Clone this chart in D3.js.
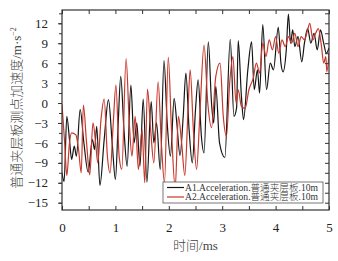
<!DOCTYPE html>
<html>
<head>
<meta charset="utf-8">
<script src="https://cdn.jsdelivr.net/npm/d3@7"></script>
<style>
body { margin: 0; background: #fff; }
text { font-family: "Liberation Serif", "Times New Roman", serif; }
.cjk { font-family: "Liberation Serif", "Noto Sans CJK SC", serif; font-weight: 300; }
</style>
</head>
<body>
<div id="chart"></div>
<script>
// peaks and troughs, time in ms, accel in m/s^2
const blackT = [0.00,0.04,0.09,0.14,0.18,0.23,0.27,0.34,0.41,0.49,0.57,0.61,0.65,0.71,0.79,0.87,0.94,1.00,1.05,1.10,1.16,1.22,1.29,1.35,1.40,1.46,1.52,1.59,1.67,1.72,1.77,1.84,1.91,1.97,2.03,2.10,2.15,2.21,2.27,2.32,2.38,2.44,2.50,2.55,2.61,2.66,2.74,2.80,2.84,2.88,2.95,3.05,3.15,3.22,3.27,3.30,3.36,3.40,3.48,3.55,3.60,3.66,3.70,3.76,3.83,3.90,3.96,4.05,4.10,4.14,4.20,4.24,4.28,4.32,4.36,4.42,4.49,4.54,4.60,4.66,4.72,4.78,4.84,4.90,4.95,5.00];
const blackV = [-10.5,-11.8,-2.0,-5.5,-8.5,-6.5,-8.0,-1.0,-6.0,-10.4,-5.5,-7,-3.5,-12.4,-5.5,0.5,-6,-11.5,-3.5,4.0,-4,-9.5,2.7,-6,-3,-9.5,0.6,-11.9,0.2,-6,-3,-10,6.4,-3,-8,0.7,-3,-7.9,-2,4.5,-4,-9,-1,3.5,-5,-7.5,9.2,0,-3,2.5,-6,-8.2,9.6,-2,-0.7,9.4,1,-2.5,5,9.2,2,5,1.5,11.8,2.0,6,5,11.4,6,4.7,8,13.4,9,11,8.5,10,6.2,9,11.2,9,10.5,8,11,9,7.5,8.3];

const redT = [0.00,0.05,0.09,0.14,0.18,0.26,0.31,0.36,0.40,0.46,0.52,0.58,0.63,0.67,0.73,0.79,0.85,0.90,0.96,1.01,1.07,1.12,1.20,1.26,1.31,1.37,1.43,1.50,1.55,1.60,1.66,1.72,1.80,1.86,1.92,1.99,2.05,2.12,2.18,2.24,2.30,2.36,2.40,2.46,2.52,2.58,2.66,2.73,2.80,2.88,2.96,3.02,3.08,3.14,3.20,3.26,3.30,3.36,3.43,3.50,3.58,3.64,3.70,3.76,3.82,3.88,3.94,4.00,4.06,4.12,4.18,4.24,4.30,4.36,4.42,4.48,4.54,4.60,4.64,4.70,4.75,4.80,4.86,4.90,4.94,4.96,5.00];
const redV = [-0.2,-6,-10.9,-6,-4.5,-4.8,-7,-10.5,-0.3,-6,-10.8,-3,-6,-9,-2.5,0.6,-8,-10.5,-3,2.7,-8,-10,6.7,-3,-8,-2,-10,-4,-12,2.1,-4,-9,3.2,-6,-12,6.9,-4,-12.8,-2,-6,-10.9,-1,5,-4,-10,-2,8.7,0,-3.7,4,6,-2,-5,3,7,0,2,-0.5,-0.8,2,3.7,6,4.5,9,7,9.5,8,10,7.5,9.5,8.5,10,9,10.5,8.5,10,9.5,11,12,9.5,10.5,11.2,8.5,6,7,4.7,7.5];

const xTicks = [0, 1, 2, 3, 4, 5];
const yTicks = [-15, -12, -9, -6, -3, 0, 3, 6, 9, 12];
const legendNames = ["A1.Acceleration.普通夹层板.10m", "A2.Acceleration.普通夹层板.10m"];

const width = 338, height = 261;
const margin = { top: 10, right: 9, bottom: 51, left: 62 };

const svg = d3.select("#chart").append("svg")
  .attr("width", width)
  .attr("height", height);

const x = d3.scaleLinear().domain([0, 5]).range([margin.left, width - margin.right]);
const y = d3.scaleLinear().domain([-16.1, 14]).range([height - margin.bottom, margin.top]);

const axisColor = "#333";

// clip for the lines
svg.append("clipPath").attr("id", "clip")
  .append("rect")
  .attr("x", margin.left).attr("y", margin.top)
  .attr("width", x(5) - x(0)).attr("height", y(-16.1) - y(14));

const line = d3.line()
  .x(d => x(d[0]))
  .y(d => y(d[1]))
  .curve(d3.curveMonotoneX);

const blackData = blackT.map((t, i) => [t, blackV[i]]);
const redData = redT.map((t, i) => [t, redV[i]]);

const lines = svg.append("g").attr("clip-path", "url(#clip)");
lines.append("path").datum(blackData)
  .attr("d", line).attr("fill", "none")
  .attr("stroke", "#151515").attr("stroke-width", 1.2);
lines.append("path").datum(redData)
  .attr("d", line).attr("fill", "none")
  .attr("stroke", "#c8382c").attr("stroke-width", 1.2);

// bottom axis, ticks inside
const xMinor = d3.range(0, 5.01, 0.5);
svg.append("g")
  .attr("transform", `translate(0,${height - margin.bottom})`)
  .call(d3.axisBottom(x).tickValues(xMinor).tickSize(-4).tickFormat(""))
  .call(g => g.select(".domain").remove())
  .selectAll("line").attr("stroke", axisColor);
svg.append("g")
  .attr("transform", `translate(0,${height - margin.bottom})`)
  .call(d3.axisBottom(x).tickValues(xTicks).tickSize(0).tickPadding(13).tickFormat(d3.format("d")))
  .call(g => g.select(".domain").remove())
  .selectAll("text")
  .attr("font-size", 13)
  .attr("fill", "#222")
  .style("font-family", "Liberation Serif, serif");

// top axis
svg.append("g")
  .attr("transform", `translate(0,${margin.top})`)
  .call(d3.axisTop(x).tickValues(xMinor).tickSize(-4).tickFormat(""))
  .call(g => g.select(".domain").remove())
  .selectAll("line").attr("stroke", axisColor);

// left axis
const yMinor = d3.range(-15, 13.6, 1.5);
svg.append("g")
  .attr("transform", `translate(${margin.left},0)`)
  .call(d3.axisLeft(y).tickValues(yMinor).tickSize(3).tickFormat(""))
  .call(g => g.select(".domain").remove())
  .selectAll("line").attr("stroke", axisColor);
svg.append("g")
  .attr("transform", `translate(${margin.left},0)`)
  .call(d3.axisLeft(y).tickValues(yTicks).tickSize(4).tickPadding(10)
    .tickFormat(d => d < 0 ? "\u2212" + Math.abs(d) : d))
  .call(g => g.select(".domain").remove())
  .call(g => g.selectAll("line").attr("stroke", axisColor))
  .selectAll("text")
  .attr("font-size", 13)
  .attr("fill", "#222")
  .style("font-family", "Liberation Serif, serif");

// right axis
svg.append("g")
  .attr("transform", `translate(${width - margin.right},0)`)
  .call(d3.axisRight(y).tickValues(yMinor).tickSize(-4).tickFormat(""))
  .call(g => g.select(".domain").remove())
  .selectAll("line").attr("stroke", axisColor);

// frame
svg.append("rect")
  .attr("x", margin.left).attr("y", margin.top)
  .attr("width", x(5) - x(0)).attr("height", y(-16.1) - y(14))
  .attr("fill", "none").attr("stroke", axisColor).attr("stroke-width", 1.2);

// legend
const leg = svg.append("g").attr("transform", "translate(163,182)");
leg.append("rect")
  .attr("width", 160).attr("height", 21)
  .attr("fill", "#fff").attr("stroke", "#555").attr("stroke-width", 0.8);
const legColors = ["#151515", "#c8382c"];
legendNames.forEach((name, i) => {
  const row = leg.append("g").attr("transform", `translate(0,${5.5 + i * 9.5})`);
  row.append("line")
    .attr("x1", 4).attr("x2", 21)
    .attr("stroke", legColors[i]).attr("stroke-width", 1.2);
  row.append("text")
    .attr("class", "cjk")
    .attr("x", 22).attr("y", 3.2)
    .attr("font-size", 9.6)
    .attr("fill", "#333")
    .text(name);
});

// axis titles
svg.append("text")
  .attr("class", "cjk")
  .attr("x", (x(0) + x(5)) / 2)
  .attr("y", 250)
  .attr("text-anchor", "middle")
  .attr("font-size", 13)
  .attr("fill", "#444")
  .text("时间/ms");

svg.append("text")
  .attr("class", "cjk")
  .attr("transform", `translate(21,${(y(-16.1) + y(14)) / 2 - 2}) rotate(-90)`)
  .attr("text-anchor", "middle")
  .attr("font-size", 13)
  .attr("fill", "#444")
  .text("普通夹层板测点加速度/m·s")
  .append("tspan")
  .attr("dy", -5)
  .attr("font-size", 8)
  .text("−2");
</script>
</body>
</html>
